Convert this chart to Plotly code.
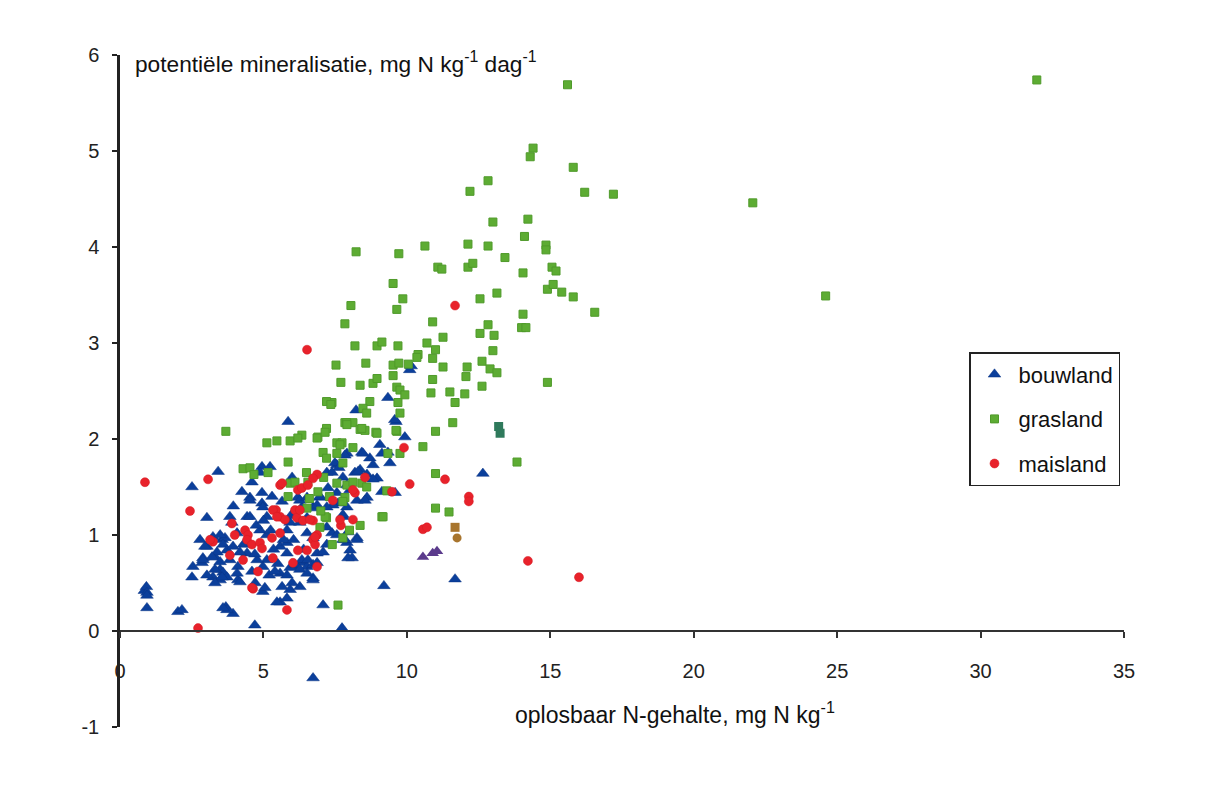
import plotly.graph_objects as go

# ---------------- data ----------------
bouwland_x = [0.85, 0.92, 0.94, 0.94, 0.94, 2.02, 3.69, 3.94, 4.70, 7.74, 6.73, 7.08, 9.20, 11.68, 12.65, 10.10, 5.86, 9.62, 9.93, 2.51, 3.42,
              2.86, 2.89, 2.79, 3.03, 3.31, 3.24, 3.49, 3.59, 3.73, 3.49, 3.56, 3.66, 3.83, 3.90, 4.43, 4.53, 4.95, 4.95, 4.98, 4.11, 4.11, 4.43, 4.98,
              4.95, 5.23, 4.88, 5.58, 5.82, 5.65, 5.93, 6.27, 6.73, 6.34, 6.52, 6.17, 6.87, 7.21, 5.82, 7.21, 7.56, 7.77, 7.56, 7.60, 7.42, 6.97, 6.73,
              7.91, 6.20, 6.34,
              9.06, 9.34, 8.43, 8.71, 8.82, 9.41, 7.49, 7.63, 7.39, 8.37, 8.61, 8.19, 8.96, 7.25, 7.91, 8.02, 9.13, 9.59, 8.61, 8.26, 4.53, 6.97, 7.21,
              7.91, 3.03, 4.53, 5.12, 7.77, 7.95, 8.26, 7.91, 8.09, 3.24, 3.49, 4.08, 2.96, 3.59, 3.73, 3.38, 3.21, 3.94, 4.18, 3.83, 3.49, 2.89, 2.54,
              3.03, 2.51, 3.31, 3.56, 4.08, 3.31, 4.18, 4.71, 5.05, 5.12, 4.98, 4.78, 5.58, 5.82, 5.58, 5.82, 5.93, 6.10, 6.00, 6.27, 6.52, 6.34, 6.55,
              6.73, 6.87, 6.73, 7.08, 5.47, 3.73, 3.59, 2.16, 5.12, 4.88, 5.82, 5.93, 6.27, 6.52, 6.73, 6.87, 6.52, 6.27, 7.39, 7.56, 7.77, 7.21, 6.52,
              6.73,
              8.47, 7.84, 8.30, 8.82, 8.54, 7.77, 8.26, 7.84, 7.95, 8.02, 9.34, 8.23, 9.58, 9.13, 10.15,
              5.35, 5.50, 5.70, 4.60, 4.30, 5.20, 5.40, 6.05, 6.40, 4.75, 5.00, 5.30, 3.95, 4.25, 4.60, 5.65, 6.00, 5.25, 4.70, 5.95]
bouwland_y = [0.42, 0.46, 0.40, 0.37, 0.24, 0.20, 0.25, 0.18, 0.06, 0.03, -0.49, 0.27, 0.47, 0.54, 1.64, 2.72, 2.18, 2.18, 2.02, 1.50, 1.66,
              0.71, 0.76, 0.95, 0.88, 0.77, 0.56, 0.64, 0.61, 0.56, 0.53, 0.95, 0.97, 1.19, 1.13, 1.19, 1.39, 1.33, 1.44, 1.29, 0.53, 0.67, 0.81, 0.41,
              1.71, 1.71, 1.65, 0.30, 0.34, 0.46, 0.43, 0.46, 0.55, 0.71, 0.67, 0.67, 0.81, 0.90, 0.81, 1.65, 1.73, 1.60, 1.44, 1.33, 1.31, 1.39, 1.29,
              1.85, 1.39, 1.29,
              1.94, 1.86, 1.86, 1.80, 1.73, 1.75, 1.75, 1.70, 1.65, 1.68, 1.63, 1.65, 1.59, 1.49, 1.52, 1.47, 1.45, 1.44, 1.39, 1.36, 1.36, 1.40, 1.29,
              1.29, 1.18, 1.19, 1.19, 1.19, 1.03, 0.97, 0.92, 0.76, 0.98, 1.00, 1.02, 0.88, 0.90, 0.84, 0.82, 0.77, 0.88, 0.82, 0.74, 0.72, 0.74, 0.67,
              0.58, 0.56, 0.64, 0.56, 0.60, 0.50, 0.51, 0.50, 0.45, 0.74, 0.67, 0.74, 0.88, 0.92, 0.60, 0.58, 0.66, 0.69, 0.50, 0.64, 0.60, 0.74, 0.74,
              0.69, 0.71, 0.53, 0.82, 0.30, 0.22, 0.24, 0.22, 1.00, 1.05, 1.05, 1.13, 1.36, 1.39, 1.28, 1.31, 1.18, 1.13, 1.02, 1.00, 0.95, 1.08, 1.02,
              0.97,
              1.85, 1.83, 1.66, 1.58, 1.36, 1.21, 0.95, 0.95, 0.76, 0.84, 2.43, 2.30, 2.20, 1.85, 2.76,
              0.85, 0.70, 0.95, 0.62, 0.90, 0.58, 0.62, 0.95, 0.85, 1.10, 1.15, 1.40, 1.30, 1.45, 1.55, 1.35, 1.60, 1.05, 0.80, 1.20]

grasland_x = [31.96, 15.60, 14.40, 14.30, 15.80, 16.20, 17.20, 22.06, 14.22, 14.10, 14.85, 14.85, 15.06, 15.20, 14.90, 15.10, 15.40, 15.80,
              16.55, 14.05, 14.00, 14.15, 14.05, 24.60, 14.90, 12.20, 12.83, 13.00,
              8.23, 9.72, 10.63, 12.13, 12.83, 11.08, 11.22, 12.13, 12.30, 13.42, 9.52, 9.86, 9.65, 8.05, 12.55, 13.14, 7.84, 10.90, 11.26, 12.55,
              12.83, 13.04, 13.00, 12.62, 12.90, 13.14, 12.62, 8.19, 8.96, 9.13, 9.69, 10.70, 11.00, 10.90, 10.39, 10.35, 7.53, 8.57, 9.52, 9.72,
              10.05, 11.26, 12.10, 12.06, 10.90, 7.70, 8.37, 8.82, 8.96, 9.52, 9.65, 9.76, 9.93, 10.84, 11.50, 12.02, 7.39, 8.71, 8.47, 8.60, 9.69,
              11.68, 9.76, 7.84, 8.12, 8.37, 8.54, 8.92, 9.65, 11.00, 11.60, 10.56, 7.56, 7.74, 8.12, 9.34, 9.76, 13.84,
              7.20, 7.35, 7.90, 3.69, 7.20, 6.34, 6.90,
              5.12, 5.47, 5.93, 6.20, 6.87, 7.15, 7.91, 8.43, 8.96, 9.62, 7.67, 7.08, 7.20, 5.86, 4.29, 4.53, 4.67, 5.16, 7.56, 7.77, 7.56, 7.91,
              8.12, 8.43, 8.60, 5.93, 6.10, 5.86, 6.55, 6.52, 7.20, 6.97, 7.15, 7.84, 7.77, 7.77, 8.37, 9.13, 7.60, 11.00, 9.30, 11.00, 11.47, 9.17,
              6.60, 6.90, 7.00, 8.00, 7.40, 6.50, 7.10, 7.30]
grasland_y = [5.74, 5.69, 5.03, 4.94, 4.83, 4.57, 4.55, 4.46, 4.29, 4.11, 4.02, 3.97, 3.79, 3.75, 3.56, 3.61, 3.53, 3.48,
              3.32, 3.30, 3.16, 3.16, 3.73, 3.49, 2.59, 4.58, 4.69, 4.26,
              3.95, 3.93, 4.01, 4.03, 4.01, 3.79, 3.77, 3.79, 3.83, 3.89, 3.62, 3.46, 3.35, 3.39, 3.46, 3.52, 3.20, 3.22, 3.06, 3.10,
              3.19, 3.08, 2.92, 2.81, 2.73, 2.69, 2.55, 2.97, 2.97, 3.01, 2.97, 3.00, 2.93, 2.84, 2.88, 2.85, 2.77, 2.79, 2.77, 2.79,
              2.78, 2.75, 2.75, 2.65, 2.62, 2.59, 2.56, 2.58, 2.63, 2.66, 2.54, 2.51, 2.46, 2.48, 2.49, 2.47, 2.38, 2.39, 2.32, 2.27, 2.38,
              2.38, 2.27, 2.17, 2.17, 2.10, 2.09, 2.07, 2.08, 2.08, 2.17, 1.92, 1.96, 1.96, 1.91, 1.85, 1.85, 1.76,
              2.39, 2.36, 2.17, 2.08, 2.11, 2.04, 2.02,
              1.96, 1.98, 1.98, 2.01, 2.01, 2.07, 2.15, 2.11, 2.06, 2.09, 1.94, 1.86, 1.80, 1.76, 1.69, 1.70, 1.63, 1.65, 1.85, 1.75, 1.54, 1.52,
              1.55, 1.54, 1.50, 1.54, 1.55, 1.40, 1.55, 1.28, 1.18, 1.08, 1.19, 1.39, 1.35, 0.97, 1.10, 1.19, 0.27, 1.64, 1.46, 1.28, 1.24, 1.19,
              1.38, 1.45, 1.25, 1.05, 0.90, 1.65, 1.60, 1.40]

maisland_x = [0.87, 3.07, 2.44, 2.72, 4.64, 5.82, 6.52, 11.68, 9.90, 11.33, 12.16, 12.16, 10.10, 9.48, 10.56, 10.70, 14.22, 16.00, 8.54,
              8.12, 7.70, 8.19,
              5.58, 6.20, 6.34, 6.87, 6.73, 8.12, 5.44, 5.58, 5.75, 6.10, 6.17, 6.38, 6.73, 3.90, 4.00, 4.36, 4.46, 4.43, 4.60, 4.88, 4.95, 5.30,
              5.58, 6.87, 6.73, 6.80, 6.20, 3.83, 4.29, 5.33, 6.03, 6.87, 4.81, 4.60, 3.24, 6.52, 3.14, 6.55, 6.27, 6.62, 5.33, 5.47, 6.80, 7.67,
              7.42, 5.65]
maisland_y = [1.55, 1.58, 1.25, 0.03, 0.44, 0.22, 2.93, 3.39, 1.91, 1.58, 1.40, 1.35, 1.53, 1.45, 1.06, 1.08, 0.73, 0.56, 1.60,
              1.16, 1.10, 1.44,
              1.52, 1.47, 1.49, 1.63, 1.59, 1.47, 1.26, 1.19, 1.16, 1.26, 1.18, 1.15, 1.15, 1.12, 1.00, 1.05, 1.00, 0.95, 0.90, 0.92, 0.86, 0.97,
              1.02, 1.00, 0.95, 0.90, 0.84, 0.79, 0.74, 0.76, 0.71, 0.67, 0.62, 0.45, 0.93, 0.84, 0.95, 1.52, 1.26, 1.16, 1.26, 1.19, 0.98, 1.16,
              1.36, 1.54]

extra_sq_teal_x = [13.20, 13.25]
extra_sq_teal_y = [2.13, 2.06]
extra_sq_brown_x = [11.68]
extra_sq_brown_y = [1.08]
extra_circ_brown_x = [11.75]
extra_circ_brown_y = [0.97]
extra_tri_purple_x = [10.56, 10.90, 11.05]
extra_tri_purple_y = [0.77, 0.81, 0.83]

x_ticks = [0, 5, 10, 15, 20, 25, 30, 35]
x_ticklabels = ["0", "5", "10", "15", "20", "25", "30", "35"]
y_ticks = [-1, 0, 1, 2, 3, 4, 5, 6]
y_ticklabels = ["-1", "0", "1", "2", "3", "4", "5", "6"]

# ---------------- figure ----------------
BLUE = "#0b3f9b"
GREEN = "#5dac33"
RED = "#e8222b"

fig = go.Figure()
fig.add_trace(go.Scatter(x=bouwland_x, y=bouwland_y, mode="markers", name="bouwland", legendgroup="a",
                         marker=dict(symbol="triangle-up", size=11, color=BLUE, line=dict(width=0.5, color="#0a3585"))))
fig.add_trace(go.Scatter(x=grasland_x, y=grasland_y, mode="markers", name="grasland", legendgroup="b",
                         marker=dict(symbol="square", size=8, color=GREEN, line=dict(width=1, color="#4f9a2a"))))
fig.add_trace(go.Scatter(x=maisland_x, y=maisland_y, mode="markers", name="maisland", legendgroup="c",
                         marker=dict(symbol="circle", size=9, color=RED, line=dict(width=0.5, color="#d41a22"))))
fig.add_trace(go.Scatter(x=extra_sq_teal_x, y=extra_sq_teal_y, mode="markers", showlegend=False,
                         marker=dict(symbol="square", size=9, color="#2f7a5c")))
fig.add_trace(go.Scatter(x=extra_sq_brown_x, y=extra_sq_brown_y, mode="markers", showlegend=False,
                         marker=dict(symbol="square", size=9, color="#a8752e")))
fig.add_trace(go.Scatter(x=extra_circ_brown_x, y=extra_circ_brown_y, mode="markers", showlegend=False,
                         marker=dict(symbol="circle", size=9, color="#a8752e")))
fig.add_trace(go.Scatter(x=extra_tri_purple_x, y=extra_tri_purple_y, mode="markers", showlegend=False,
                         marker=dict(symbol="triangle-up", size=11, color="#5b3b8c")))

# the page body adds an 8px margin, so the figure is 16px smaller than the window
W, H = 1197, 773
L, R, T, B = 112, 81, 47, 54
pw, ph = W - L - R, H - T - B
OFF = 8

def px_x(p):  # window pixel -> paper fraction
    return (p - OFF - L) / pw

def px_y(p):
    return (H - B - (p - OFF)) / ph

fig.update_layout(
    width=W, height=H,
    margin=dict(l=L, r=R, t=T, b=B),
    paper_bgcolor="white", plot_bgcolor="white",
    font=dict(family="Arial, Liberation Sans, sans-serif", size=20, color="#222"),
    xaxis=dict(range=[0, 35], tickvals=x_ticks, ticktext=x_ticklabels, showgrid=False, zeroline=False,
               showline=True, linecolor="#333", linewidth=2,
               ticks="outside", ticklen=6, tickwidth=2, tickcolor="#333",
               anchor="free", position=1/7, ticklabelstandoff=16,
               tickfont=dict(size=20, color="#222")),
    yaxis=dict(range=[-1, 6], tickvals=y_ticks, ticktext=y_ticklabels, showgrid=False, zeroline=False,
               showline=True, linecolor="#222", linewidth=2.5,
               ticks="outside", ticklen=5, tickwidth=2, tickcolor="#222",
               ticklabelstandoff=9, tickfont=dict(size=20, color="#222")),
    legend=dict(x=px_x(969), y=px_y(352), xanchor="left", yanchor="top",
                bordercolor="#222", borderwidth=1.5, bgcolor="white",
                font=dict(size=22, color="#111"), traceorder="grouped",
                tracegroupgap=13, itemsizing="trace", itemwidth=38),
    showlegend=True,
    annotations=[
        dict(text="potentiële mineralisatie, mg N kg<sup>-1</sup> dag<sup>-1</sup>", xref="paper", yref="paper",
             x=px_x(133), y=px_y(63), xanchor="left", yanchor="middle", showarrow=False,
             font=dict(size=22.7, color="#111")),
        dict(text="oplosbaar N-gehalte, mg N kg<sup>-1</sup>", xref="paper", yref="paper",
             x=px_x(675), y=px_y(713), xanchor="center", yanchor="middle", showarrow=False,
             font=dict(size=23, color="#111")),
    ],
)

fig.write_html("out.html")
